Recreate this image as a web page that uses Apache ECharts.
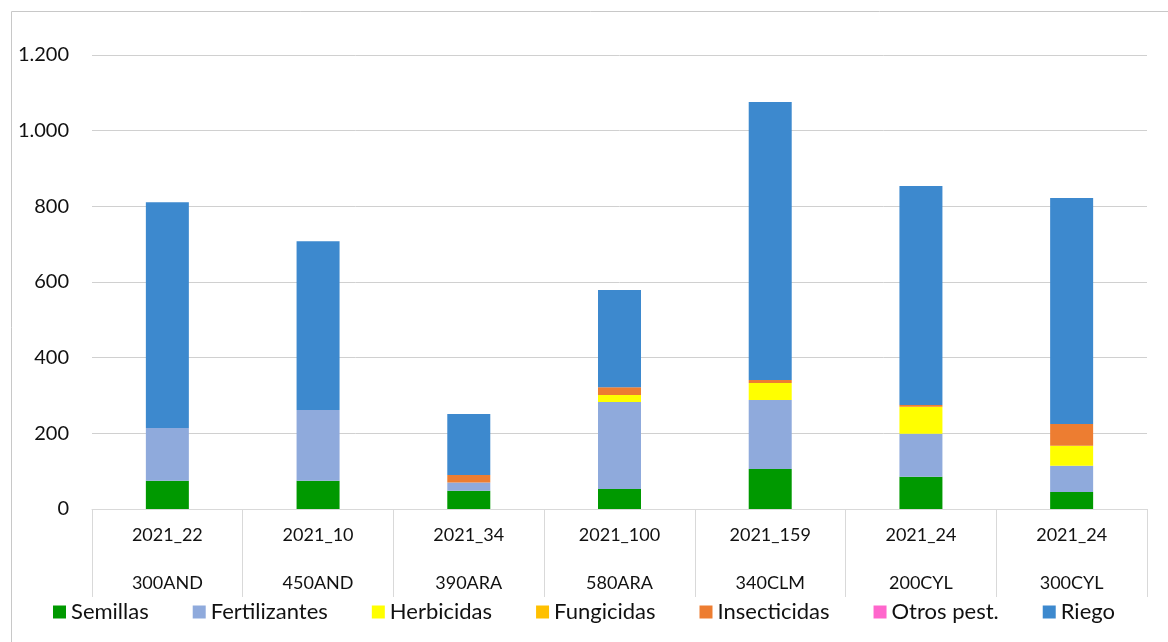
<!DOCTYPE html>
<html>
<head>
<meta charset="utf-8">
<script src="https://cdn.jsdelivr.net/npm/echarts@6/dist/echarts.min.js"></script>
<style>
  html, body { margin: 0; padding: 0; background: #fff; }
  #chart { width: 1168px; height: 642px; }
</style>
</head>
<body>
<div id="chart"></div>
<script>
// categories (two-level labels)
const codes = ['2021_22', '2021_10', '2021_34', '2021_100', '2021_159', '2021_24', '2021_24'];
const farms = ['300AND', '450AND', '390ARA', '580ARA', '340CLM', '200CYL', '300CYL'];

// series values
const semillas      = [75, 75, 48, 53, 106, 85, 45];
const fertilizantes = [139, 187, 22, 230, 182, 114, 69];
const herbicidas    = [0, 0, 0, 18, 45, 71, 53];
const fungicidas    = [0, 0, 0, 0, 0, 0, 0];
const insecticidas  = [0, 0, 20, 21, 8, 5, 58];
const otrosPest     = [0, 0, 0, 0, 0, 0, 0];
const riego         = [597, 446, 161, 257, 735, 579, 597];

const yTicks = [0, 200, 400, 600, 800, 1000, 1200];

const seriesDefs = [
    { name: 'Semillas', data: semillas, color: '#009900' },
    { name: 'Fertilizantes', data: fertilizantes, color: '#8FAADC' },
    { name: 'Herbicidas', data: herbicidas, color: '#FFFF00' },
    { name: 'Fungicidas', data: fungicidas, color: '#FFC000' },
    { name: 'Insecticidas', data: insecticidas, color: '#ED7D31' },
    { name: 'Otros pest.', data: otrosPest, color: '#FF66CC' },
    { name: 'Riego', data: riego, color: '#3D89CE' }
];

const font = 'Lato, "Open Sans", sans-serif';
const chart = echarts.init(document.getElementById('chart'));

chart.setOption({
    animation: false,
    textStyle: { fontFamily: font },
    graphic: [{
        type: 'rect',
        left: 9, top: 9,
        shape: { width: 1180, height: 660 },
        style: { fill: 'none', stroke: '#c8c8c8', lineWidth: 1 },
        silent: true
    }],
    grid: { left: 92, right: 21, top: 55, bottom: 133 },
    legend: {
        left: 'center',
        top: 596,
        itemWidth: 13,
        itemHeight: 13,
        itemGap: 44,
        icon: 'rect',
        textStyle: { fontSize: 22, color: '#111', fontFamily: font },
        data: seriesDefs.map(s => s.name)
    },
    xAxis: {
        type: 'category',
        data: codes.map((c, i) => c + '\n' + farms[i]),
        axisLine: { show: true, lineStyle: { color: '#d9d9d9', width: 1 } },
        axisTick: { show: true, interval: 0, length: 88, lineStyle: { color: '#d9d9d9' } },
        axisLabel: {
            interval: 0,
            margin: 2,
            fontSize: 18,
            color: '#111',
            lineHeight: 48,
            fontFamily: font
        }
    },
    yAxis: {
        type: 'value',
        min: yTicks[0],
        max: yTicks[yTicks.length - 1],
        interval: 200,
        axisLine: { show: false },
        axisTick: { show: false },
        splitLine: { lineStyle: { color: '#d0d0d0', width: 1 } },
        axisLabel: {
            fontSize: 20,
            color: '#111',
            margin: 23,
            fontFamily: font,
            formatter: v => String(v).replace(/\B(?=(\d{3})+(?!\d))/g, '.')
        }
    },
    series: seriesDefs.map(s => ({
        name: s.name,
        type: 'bar',
        stack: 'total',
        barWidth: 43,
        data: s.data,
        itemStyle: { color: s.color }
    }))
});
</script>
</body>
</html>
